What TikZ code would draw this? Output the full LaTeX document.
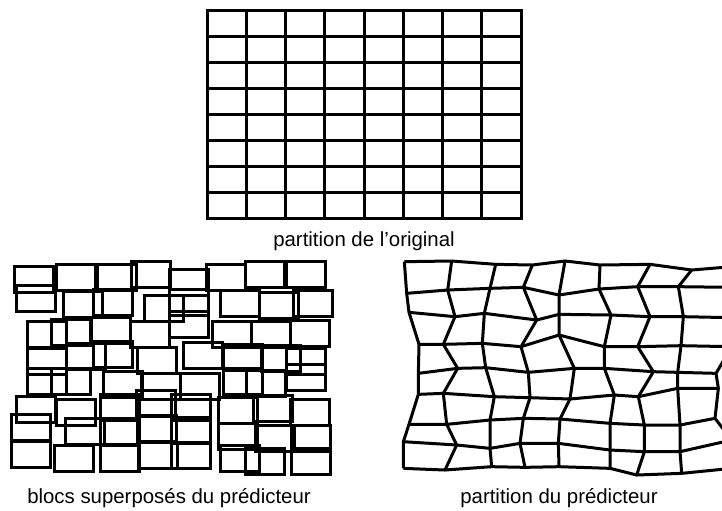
\documentclass[tikz,border=0pt]{standalone}
\usepackage{fontspec}
\setmainfont{Liberation Sans}
\usetikzlibrary{positioning}

\tikzset{
  cell/.style={draw, line width=1.5pt},
  mesh/.style={draw, line width=1.5pt},
  legend/.style={font=\fontsize{10.2}{12}\selectfont, inner sep=0pt, anchor=base},
}

\begin{document}
\begin{tikzpicture}[x=0.5pt, y=-0.5pt]
  \useasboundingbox (0,0) rectangle (722,510);

  % partition de l'original
  \foreach \i in {0,...,7}
    \foreach \j in {0,...,7}
      \draw[cell] (207+\i*39.25, 10+\j*26) rectangle ++(39.25,26);
  \node[legend] (lorig) at (364,246) {partition de l’original};

  % blocs superposes du predicteur
  \foreach \x/\y in {14.3/266.7, 56.7/264.3, 97.3/264.3, 131.7/261, 169/269, 206.7/264.3, 245.7/261, 286/261,
                     16.7/285, 63.3/291.7, 93.3/289, 144.3/295, 169/289, 220/290, 259/292.3, 293.3/290,
                     27.7/321, 51/319, 91/317.7, 130/321, 169/311, 212.3/321, 251/321, 290/320,
                     27.7/348.3, 66.7/343.3, 93.3/341, 137.7/347.7, 183.3/342.3, 223.3/344.3, 261.7/345, 286.7/348.3,
                     27.7/368.3, 51.7/368.3, 103.3/371, 141.7/373.3, 180/373.3, 223.3/368.3, 246.7/370, 286.7/364.3,
                     16.7/396.7, 56.7/399, 100/394.3, 136.7/390, 171/394.3, 218.3/397.7, 253.3/395, 290/399,
                     11/414.3, 65.7/418.3, 100/418.3, 137.7/415, 171/417.7, 218.3/423.3, 255/425, 291/425.7,
                     11.7/441.7, 54.3/445, 100/445, 138.3/442.3, 171/442.3, 220/445, 245.7/448.3, 291.7/448.3}
    \draw[cell] (\x,\y) rectangle ++(39,26);
  \node[legend] (lblocs) at (169,503) {blocs superposés du prédicteur};

  % partition du predicteur
  \begin{scope}[shift={(395,255)}, x=0.16667pt, y=-0.16667pt]
    \foreach \r/\pts in {
        0/{28/20, 170/18, 302/28, 412/30, 510/18, 615/30, 765/28, 890/45, 1010/35},
        1/{35/115, 158/105, 285/100, 385/97, 492/120, 612/102, 728/95, 850/95, 1010/97},
        2/{42/172, 180/185, 268/175, 425/195, 492/178, 648/180, 765/185, 865/185, 1010/188},
        3/{72/268, 145/268, 262/265, 378/275, 492/240, 628/275, 728/275, 858/272, 1010/275},
        4/{70/355, 188/340, 272/338, 400/352, 538/340, 628/340, 775/350, 848/352, 963/355},
        5/{70/418, 145/415, 298/425, 405/428, 525/432, 658/420, 730/425, 848/400, 970/400},
        6/{42/508, 155/508, 285/495, 385/490, 495/492, 645/505, 748/510, 855/510, 960/490},
        7/{25/560, 185/570, 285/580, 375/565, 490/565, 645/585, 748/590, 855/590, 1010/555},
        8/{25/640, 150/645, 290/635, 390/637, 492/635, 645/640, 725/660, 860/655, 1010/640}}
      \foreach \x/\y [count=\c from 0] in \pts
        \coordinate (p-\r-\c) at (\x,\y);
    \foreach \r in {0,...,8}
      \draw[mesh] (p-\r-0) \foreach \c in {1,...,8} {-- (p-\r-\c)};
    \foreach \c in {0,...,8}
      \draw[mesh] (p-0-\c) \foreach \r in {1,...,8} {-- (p-\r-\c)};
  \end{scope}
  \node[legend] (lpred) at (559,503) {partition du prédicteur};
\end{tikzpicture}
\end{document}
